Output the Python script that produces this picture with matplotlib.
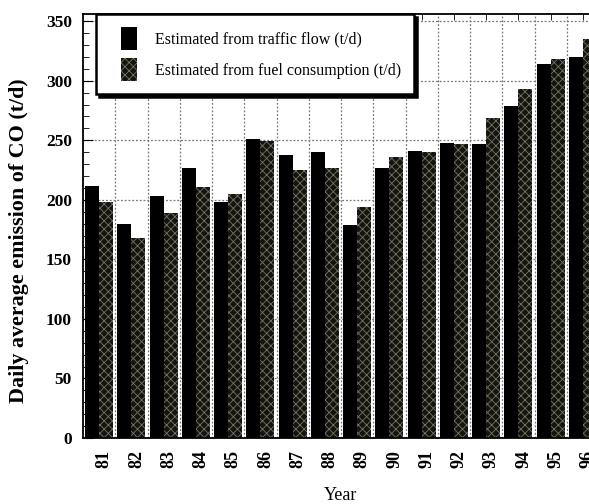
import numpy as np
import matplotlib
matplotlib.use("Agg")
import matplotlib.pyplot as plt
from matplotlib.patches import Rectangle
from matplotlib.container import BarContainer
from matplotlib.legend_handler import HandlerPatch, update_from_first_child

# daily average CO emission (t/d)
years = ["81", "82", "83", "84", "85", "86", "87", "88",
         "89", "90", "91", "92", "93", "94", "95", "96"]
traffic_flow = [212, 180, 203, 227, 198, 251, 238, 240,
                179, 227, 241, 248, 247, 279, 314, 320]
fuel_consumption = [198, 168, 189, 211, 205, 249, 225, 227,
                    194, 236, 240, 247, 269, 293, 318, 335]

plt.rcParams["font.family"] = ["Liberation Serif", "DejaVu Serif"]
plt.rcParams["hatch.linewidth"] = 0.6

W, H = 589, 504
fig = plt.figure(figsize=(W / 100, H / 100), dpi=100)
ax = fig.add_axes([83 / W, 1 - 438 / H, (599 - 83) / W, (438 - 14) / H])

x = np.arange(len(years))
bw = 0.433
ax.bar(x - bw / 2, traffic_flow, bw, color="black", linewidth=0,
       label="Estimated from traffic flow (t/d)", zorder=2)
ax.bar(x + bw / 2, fuel_consumption, bw, color="#15150e", edgecolor="#74746a",
       linewidth=0, hatch="xxxx", label="Estimated from fuel consumption (t/d)",
       zorder=2)

ax.set_xlim(-0.5, len(years) - 0.5)
ax.set_ylim(0, 356)

# dotted grid: horizontal at majors, vertical between year groups
ax.yaxis.grid(True, linestyle=(0, (1.5, 1.5)), color="#777777", linewidth=0.9)
ax.vlines(x[:-1] + 0.5, 0, 356, linestyles=(0, (1.5, 1.5)), colors="#777777",
          linewidth=0.9, zorder=1)
ax.set_axisbelow(True)

ax.set_yticks(np.arange(0, 351, 50))
ax.set_yticks(np.arange(0, 351, 10), minor=True)
ax.set_xticks(x + 0.16)
ax.set_xticklabels(years, rotation=90, fontweight="bold", fontsize=13)
ax.set_xticks(x, minor=True)
ax.tick_params(axis="x", which="major", length=0, pad=9)
ax.tick_params(axis="x", which="minor", direction="in", top=True, bottom=False,
               length=4)
ax.tick_params(axis="y", which="major", direction="in", length=7, labelsize=12.5,
               pad=8)
ax.tick_params(axis="y", which="minor", direction="in", length=4)
for lab in ax.get_yticklabels():
    lab.set_fontweight("bold")

for s in ax.spines.values():
    s.set_linewidth(1.3)

ax.set_xlabel("Year", fontsize=13, labelpad=13)
fig.text(19 / W, 1 - 241 / H, "Daily average emission of CO (t/d)",
         rotation=90, ha="center", va="center", fontsize=15.8, fontweight="bold")


# legend swatch drawn in the right part of the handle box
def swatch(legend, orig_handle, xdescent, ydescent, width, height, fontsize):
    w = 11
    return Rectangle((width - w - xdescent, -ydescent), w, height)


leg = ax.legend(loc="upper left", bbox_to_anchor=(96 / W, 1 - 14 / H),
                bbox_transform=fig.transFigure, borderaxespad=0,
                fontsize=11.5, fancybox=False, shadow={"color": "black", "alpha": 1},
                framealpha=1, edgecolor="black", handlelength=1.75,
                handleheight=1.9, handletextpad=1.15, borderpad=0.8,
                labelspacing=0.45,
                handler_map={BarContainer: HandlerPatch(
                    patch_func=swatch, update_func=update_from_first_child)})
leg.get_frame().set_linewidth(1.8)

fig.savefig("out.png", dpi=100)
